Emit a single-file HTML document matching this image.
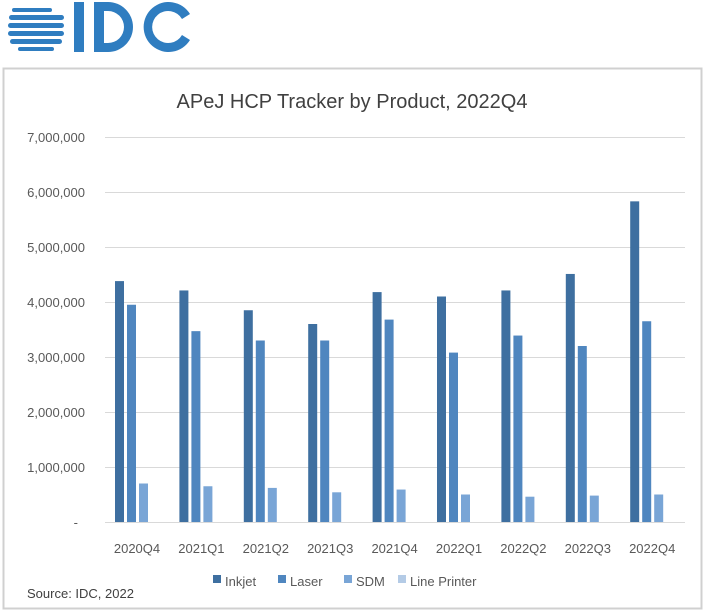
<!DOCTYPE html>
<html><head><meta charset="utf-8"><style>
body{margin:0;background:#fff;width:705px;height:611px;overflow:hidden;font-family:"Liberation Sans",sans-serif}
</style></head><body>
<svg width="705" height="611" xmlns="http://www.w3.org/2000/svg" font-family="Liberation Sans, sans-serif">
<rect x="3.5" y="68.5" width="698" height="540" fill="#fff" stroke="#d0d0d0" stroke-width="2"/>
<g fill="#2f7dc0">
<rect x="12" y="8" width="40" height="4" rx="2"/>
<rect x="9" y="15" width="55" height="5" rx="2.5"/>
<rect x="8" y="23" width="56" height="5" rx="2.5"/>
<rect x="8" y="31" width="56" height="5" rx="2.5"/>
<rect x="10" y="39" width="52" height="5" rx="2.5"/>
<rect x="18" y="47" width="36" height="4" rx="2"/>
<rect x="74" y="2" width="10" height="50"/>
<path d="M94 2 h14 a25 25 0 0 1 0 50 h-14 z M104 11 v32 h4 a16 16 0 0 0 0 -32 z" fill-rule="evenodd"/>
<path d="M190 14 a25 25 0 1 0 0 26 l-8 -5 a16 16 0 1 1 0 -16 z"/>
</g>
<text x="352" y="108" font-size="20" fill="#404040" text-anchor="middle">APeJ HCP Tracker by Product, 2022Q4</text>
<g stroke="#d9d9d9" stroke-width="1">
<line x1="105" x2="685" y1="137.5" y2="137.5"/><line x1="105" x2="685" y1="192.5" y2="192.5"/>
<line x1="105" x2="685" y1="247.5" y2="247.5"/><line x1="105" x2="685" y1="302.5" y2="302.5"/>
<line x1="105" x2="685" y1="357.5" y2="357.5"/><line x1="105" x2="685" y1="412.5" y2="412.5"/>
<line x1="105" x2="685" y1="467.5" y2="467.5"/><line x1="105" x2="685" y1="522.5" y2="522.5"/>
</g>
<g font-size="13" fill="#595959" text-anchor="end">
<text x="85" y="142">7,000,000</text><text x="85" y="197">6,000,000</text>
<text x="85" y="252">5,000,000</text><text x="85" y="307">4,000,000</text>
<text x="85" y="362">3,000,000</text><text x="85" y="417">2,000,000</text>
<text x="85" y="472">1,000,000</text><text x="78" y="527">-</text>
</g>
<g fill="#3e6fa0">
<rect x="115" y="281.1" width="9" height="240.9"/>
<rect x="179.4" y="290.45" width="9" height="231.55"/>
<rect x="243.8" y="310.25" width="9" height="211.75"/>
<rect x="308.2" y="324" width="9" height="198"/>
<rect x="372.6" y="292.1" width="9" height="229.9"/>
<rect x="437" y="296.5" width="9" height="225.5"/>
<rect x="501.4" y="290.45" width="9" height="231.55"/>
<rect x="565.8" y="273.95" width="9" height="248.05"/>
<rect x="630.2" y="201.35" width="9" height="320.65"/>
</g>
<g fill="#4f86bf">
<rect x="127" y="304.75" width="9" height="217.25"/>
<rect x="191.4" y="331.15" width="9" height="190.85"/>
<rect x="255.8" y="340.5" width="9" height="181.5"/>
<rect x="320.2" y="340.5" width="9" height="181.5"/>
<rect x="384.6" y="319.6" width="9" height="202.4"/>
<rect x="449" y="352.6" width="9" height="169.4"/>
<rect x="513.4" y="335.55" width="9" height="186.45"/>
<rect x="577.8" y="346" width="9" height="176"/>
<rect x="642.2" y="321.25" width="9" height="200.75"/>
</g>
<g fill="#79a5d6">
<rect x="139" y="483.5" width="9" height="38.5"/>
<rect x="203.4" y="486.25" width="9" height="35.75"/>
<rect x="267.8" y="487.9" width="9" height="34.1"/>
<rect x="332.2" y="492.3" width="9" height="29.7"/>
<rect x="396.6" y="489.55" width="9" height="32.45"/>
<rect x="461" y="494.5" width="9" height="27.5"/>
<rect x="525.4" y="496.7" width="9" height="25.3"/>
<rect x="589.8" y="495.6" width="9" height="26.4"/>
<rect x="654.2" y="494.5" width="9" height="27.5"/>
</g>
<g font-size="13" fill="#595959" text-anchor="middle">
<text x="137" y="553">2020Q4</text><text x="201.4" y="553">2021Q1</text>
<text x="265.8" y="553">2021Q2</text><text x="330.2" y="553">2021Q3</text>
<text x="394.6" y="553">2021Q4</text><text x="459" y="553">2022Q1</text>
<text x="523.4" y="553">2022Q2</text><text x="587.8" y="553">2022Q3</text>
<text x="652.2" y="553">2022Q4</text>
</g>
<g font-size="13" fill="#595959">
<rect x="213" y="575" width="8" height="8" fill="#3e6fa0"/><text x="225" y="586">Inkjet</text>
<rect x="278" y="575" width="8" height="8" fill="#4f86bf"/><text x="290" y="586">Laser</text>
<rect x="344" y="575" width="8" height="8" fill="#79a5d6"/><text x="356" y="586">SDM</text>
<rect x="398" y="575" width="8" height="8" fill="#b4cbe6"/><text x="410" y="586">Line Printer</text>
</g>
<text x="27" y="598" font-size="13" fill="#404040">Source: IDC, 2022</text>
</svg>
</body></html>
